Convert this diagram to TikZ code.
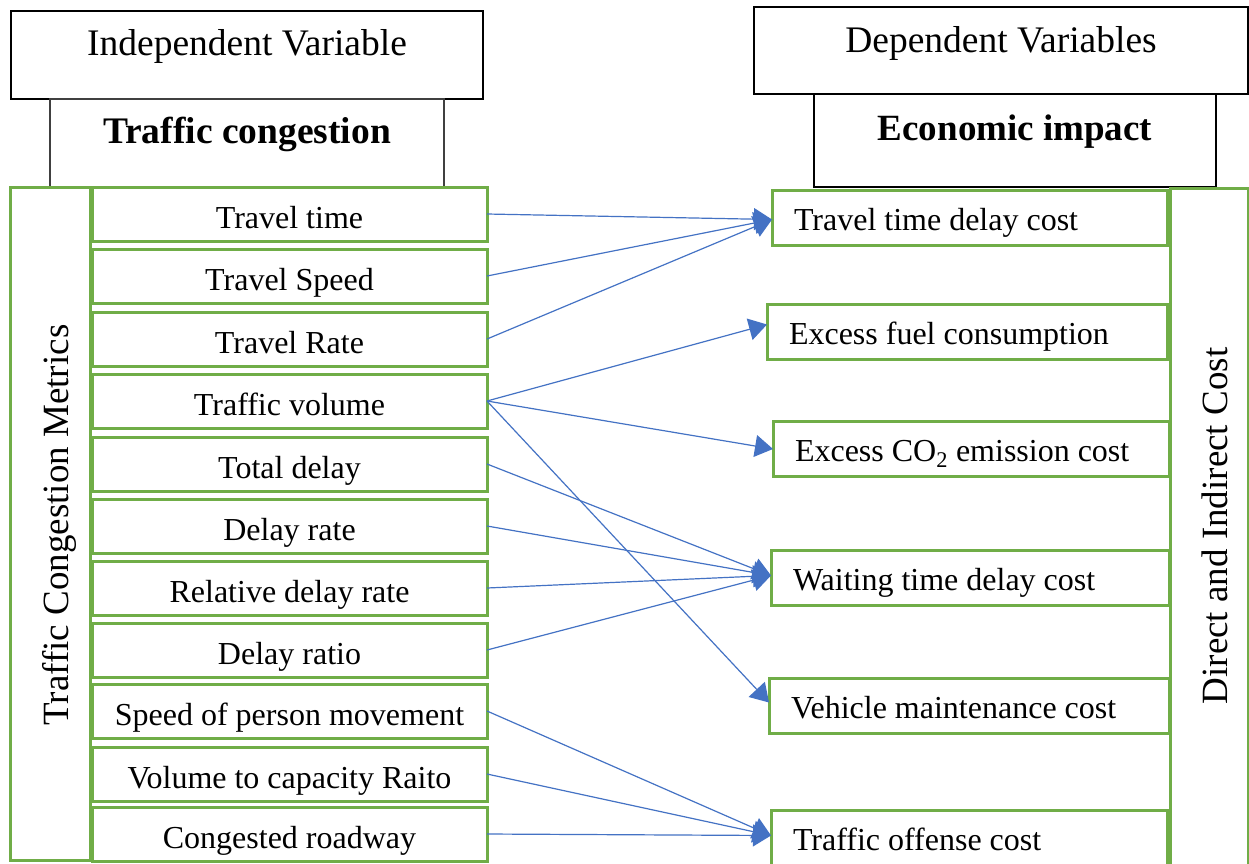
\documentclass[tikz,border=0pt]{standalone}
\usepackage{fontspec}
\setmainfont{Liberation Serif}
\usetikzlibrary{arrows.meta}
\definecolor{boxgreen}{HTML}{70AD47}
\definecolor{arrblue}{HTML}{4472C4}
\definecolor{sidegray}{HTML}{404040}
\newcommand{\leftfill}[2]{\makebox[#1][l]{#2}}
\tikzset{
  hdr/.style={draw=black, line width=1.6pt, outer sep=0pt, inner sep=0pt,
    text height=20pt, text depth=20pt, font=\fontsize{37.5}{40}\selectfont},
  metric/.style={draw=boxgreen, line width=3pt, minimum width=395pt, minimum height=54pt,
    inner sep=0pt, outer sep=0pt, text height=30pt, text depth=2pt,
    font=\fontsize{32}{36}\selectfont},
  cost/.style={draw=boxgreen, line width=3pt, minimum height=55pt,
    inner ysep=0pt, inner xsep=22pt, outer sep=0pt,
    text height=27pt, text depth=2pt, font=\fontsize{32}{36}\selectfont},
  tall/.style={draw=boxgreen, line width=3pt, inner sep=0pt, outer sep=0pt},
  vtext/.style={rotate=90, anchor=base, inner sep=0pt, font=\fontsize{37}{40}\selectfont},
  conn/.style={draw=arrblue, line width=1.2pt, -{Triangle[length=18pt,width=22pt]}}
}
\begin{document}
\begin{tikzpicture}[x=1pt,y=-1pt]
\useasboundingbox (0,0) rectangle (1249,863);
\clip (0,0) rectangle (1249,863);
\fill[white] (0,0) rectangle (1249,863);

% headers
\node[hdr, minimum width=472pt, minimum height=88pt] (iv) at (247,55) {Independent Variable};
\node[hdr, draw=sidegray, line width=1.3pt, minimum width=394pt, minimum height=88pt,
      font=\fontsize{37.5}{40}\selectfont\bfseries] (tc) at (247,143) {Traffic congestion};
\node[hdr, minimum width=494pt, minimum height=87pt, text height=21.5pt, text depth=18.5pt] (dv) at (1001,50.5) {Dependent Variables};
\node[hdr, minimum width=402pt, minimum height=93pt,
      font=\fontsize{37}{40}\selectfont\bfseries] (ei) at (1015,140.5) {Economic impact};

% left container
\node[tall, minimum width=80pt, minimum height=673pt] (tcm) at (50,523.5) {};
\node[vtext] (tcmt) at (68,525) {Traffic Congestion Metrics};

% right container
\node[tall, minimum width=78pt, minimum height=692pt] (dic) at (1209,534) {};
\node[vtext] (dict) at (1227,526) {Direct and Indirect Cost};

% metric boxes
\node[metric] (m1) at (289.5,214) {Travel time};
\node[metric] (m2) at (289.5,276) {Travel Speed};
\node[metric] (m3) at (289.5,339) {Travel Rate};
\node[metric] (m4) at (289.5,401) {Traffic volume};
\node[metric] (m5) at (289.5,464) {Total delay};
\node[metric] (m6) at (289.5,526) {Delay rate};
\node[metric] (m7) at (289.5,588) {Relative delay rate};
\node[metric] (m8) at (289.5,650) {Delay ratio\hspace{20pt}};
\node[metric] (m9) at (289.5,711) {Speed of person movement};
\node[metric] (m10) at (289.5,774) {Volume to capacity Raito};
\node[metric] (m11) at (289.5,834) {Congested roadway};

% cost boxes
\node[cost] (c1) at (969.5,217.5) {\leftfill{351pt}{Travel time delay cost}};
\node[cost] (c2) at (967,331.5) {\leftfill{356pt}{Excess fuel consumption}};
\node[cost] (c3) at (971,449) {\leftfill{352pt}{Excess CO\textsubscript{2} emission cost}};
\node[cost] (c4) at (970,577.5) {\leftfill{354pt}{Waiting time delay cost}};
\node[cost] (c5) at (969,705.5) {\leftfill{356pt}{Vehicle maintenance cost}};
\node[cost] (c6) at (969,837.5) {\leftfill{352pt}{Traffic offense cost}};

% connectors
\draw[conn] (m1.east) -- ([yshift=-2pt]c1.west);
\draw[conn] (m2.east) -- ([yshift=-2pt]c1.west);
\draw[conn] (m3.east) -- ([yshift=-2pt]c1.west);
\draw[conn] (m4.east) -- ([yshift=7pt]c2.west);
\draw[conn] (m4.east) -- (c3.west);
\draw[conn] (m4.east) -- ([yshift=3pt]c5.west);
\draw[conn] (m5.east) -- ([yshift=2pt]c4.west);
\draw[conn] (m6.east) -- ([yshift=2pt]c4.west);
\draw[conn] (m7.east) -- ([yshift=2pt]c4.west);
\draw[conn] (m8.east) -- ([yshift=2pt]c4.west);
\draw[conn] (m9.east) -- ([yshift=2pt]c6.west);
\draw[conn] (m10.east) -- ([yshift=2pt]c6.west);
\draw[conn] (m11.east) -- ([yshift=2pt]c6.west);
\end{tikzpicture}
\end{document}
